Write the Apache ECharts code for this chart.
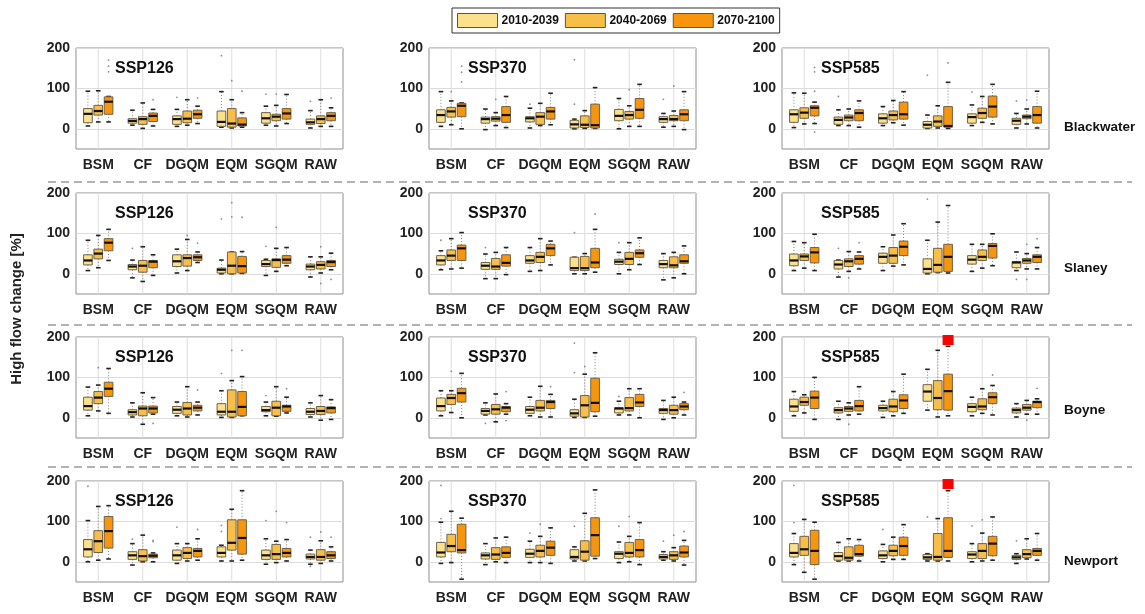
<!DOCTYPE html>
<html>
<head>
<meta charset="utf-8">
<script src="https://cdn.jsdelivr.net/npm/echarts@6/dist/echarts.min.js"></script>
<style>
html,body{margin:0;padding:0;background:#fff;}
#chart{width:1145px;height:614px;}
</style>
</head>
<body>
<div id="chart"></div>
<script>
// ---------- DATA ----------
const categories = ['BSM', 'CF', 'DGQM', 'EQM', 'SGQM', 'RAW'];
const periods = ['2010-2039', '2040-2069', '2070-2100'];
const scenarios = ['SSP126', 'SSP370', 'SSP585'];
const catchments = ['Blackwater', 'Slaney', 'Boyne', 'Newport'];
const yTicks = [0, 100, 200];

// each category: [period1, period2, period3], each = [min, q1, median, q3, max]
const blackwater126 = [
  [[7,15,37,50,93],[17,34,44,58,94],[17,36,67,79,80]],
  [[9,14,19.5,25,46],[1,11,24,30,64],[7,18,32,39,48]],
  [[6,11,24,32,48],[9,15,25,44,72],[13,26,36,46,56]],
  [[4,6,17,44,92],[2,4,13,50,72],[4,7,10.5,27,40]],
  [[9,14,26,40,56],[7,20,30,36,58],[13,24,38,50,85]],
  [[2,11,16,24,45],[6,13,24,32,72],[6,20,32,40,52]]
];
const blackwater370 = [
  [[6,16,34,47,92],[10,29,43,53,69],[0,30,57,63,64]],
  [[-2,14,24,29,49],[8,19,25,30,40],[3,16,34,55,80]],
  [[2,17,26,30,51],[8,11,30,40,63],[10,24,43,53,88]],
  [[0,2,11,21,24],[1,3,10,32,45],[1,2,9,61,102]],
  [[0,20,32,48,75],[6,24,34,43,57],[6,26,47,75,110]],
  [[4,16,24,30,38],[6,20,24,33,44],[-2,20,36,47,92]]
];
const blackwater585 = [
  [[3,16,36,47,89],[12,26,40,52,88],[13,32,52,57,66]],
  [[8,11,22,29,47],[8,20,28,34,49],[4,20,39,47,69]],
  [[8,14,26,37,55],[15,22,34,44,70],[9,24,36,66,92]],
  [[1,2,10,18,34],[2,6,18,32,57],[1,4,7,55,115]],
  [[8,14,29,37,59],[16,26,39,51,80],[12,29,55,81,110]],
  [[2,11,20,26,38],[12,25,30,34,49],[2,14,34,55,93]]
];
const slaney126 = [
  [[8,22,33,47,83],[15,37,50,61,95],[33,57,77,87,110]],
  [[-10,10,18,23,34],[-19,4,20,33,67],[-4,15,30,33,47]],
  [[2,18,31,47,61],[8,19,39,47,85],[28,33,41,47,54]],
  [[0,2,10,14,34],[0,0,20,54,54],[1,2,19,43,55]],
  [[-4,18,24,33,36],[6,16,34,37,63],[20,26,35,45,65]],
  [[-8,10,18,24,42],[2,12,22,30,42],[10,18,29,33,51]]
];
const slaney370 = [
  [[10,22,33,45,57],[12,33,45,59,87],[14,33,63,71,102]],
  [[-12,11,20,28,49],[-12,11,18,38,53],[-2,19,27,47,65]],
  [[6,26,33,45,65],[8,28,42,53,87],[22,45,63,73,81]],
  [[0,8,14,41,41],[0,8,14,43,50],[4,15,28,63,110]],
  [[0,23,30,36,53],[10,23,37,53,77],[23,41,51,59,89]],
  [[-15,15,24,33,50],[-10,15,21,42,53],[0,26,31,47,69]]
];
const slaney585 = [
  [[8,20,33,49,80],[14,33,43,49,77],[8,27,53,65,98]],
  [[-8,12,23,33,34],[6,18,31,37,55],[12,24,37,45,54]],
  [[8,26,42,51,67],[19,26,45,65,96],[22,45,67,81,124]],
  [[0,2,12,37,83],[3,4,22,63,128],[2,6,42,73,169]],
  [[6,24,35,45,73],[14,33,42,59,73],[20,39,69,75,99]],
  [[8,15,28,30,54],[12,26,33,38,50],[12,28,42,47,65]]
];
const boyne126 = [
  [[5,19,29,51,76],[17,35,50,65,81],[11,53,72,88,122]],
  [[2,7,14,20,37],[-16,5,23,29,62],[9,12,23,29,50]],
  [[5,11,20,28,39],[2,7,23,38,77],[7,17,25,31,39]],
  [[1,7,15,35,67],[1,2,15,69,92],[5,5,27,65,102]],
  [[5,15,19,28,39],[4,5,25,41,77],[12,16,28,31,51]],
  [[2,8,15,23,37],[-6,8,17,28,55],[-4,12,24,27,45]]
];
const boyne370 = [
  [[5,17,29,49,67],[13,33,49,58,67],[0,39,61,73,110]],
  [[7,9,17,23,37],[-10,9,21,33,59],[9,15,25,28,35]],
  [[5,11,20,28,51],[2,17,25,43,78],[2,23,39,43,58]],
  [[1,4,11,20,46],[1,2,31,55,108],[4,15,37,98,161]],
  [[7,12,23,25,41],[7,17,24,50,72],[0,28,38,58,72]],
  [[-4,11,19,23,43],[0,9,19,31,51],[7,20,28,35,39]]
];
const boyne585 = [
  [[5,16,28,46,65],[12,31,39,51,57],[-4,23,50,66,100]],
  [[-4,12,19,25,41],[7,16,23,28,37],[9,17,29,43,77]],
  [[1,17,24,31,41],[5,15,28,46,65],[11,23,43,57,108]],
  [[19,41,65,82,120],[2,20,49,92,167],[5,19,66,108,177]],
  [[5,15,27,35,51],[11,20,28,47,72],[7,35,51,62,80]],
  [[2,12,19,24,35],[9,19,25,33,43],[9,25,39,41,47]]
];
const newport126 = [
  [[0,12,31,55,102],[4,23,51,77,137],[7,34,76,112,139]],
  [[-8,6,16,25,45],[0,2,14,30,66],[0,10,15,19,22]],
  [[-4,4,16,29,45],[2,8,22,35,45],[4,12,27,33,57]],
  [[2,12,22,37,41],[2,29,47,104,130],[4,19,59,104,176]],
  [[-6,6,16,29,57],[-2,6,19,43,51],[2,12,22,33,55]],
  [[-6,7,12,19,29],[-4,4,12,30,52],[2,8,16,25,37]]
];
const newport370 = [
  [[-4,12,23,48,98],[-2,25,39,68,125],[-43,22,29,93,108]],
  [[-7,7,16,22,45],[0,6,18,35,59],[-2,11,22,37,61]],
  [[-2,11,20,31,51],[-2,12,27,41,63],[-4,16,35,51,84]],
  [[2,7,12,30,37],[2,4,25,52,120],[8,14,66,109,178]],
  [[-2,8,20,25,49],[0,12,22,48,63],[-7,12,29,55,97]],
  [[4,7,12,18,25],[2,6,16,25,35],[-8,12,23,39,53]]
];
const newport585 = [
  [[-7,12,22,45,70],[-26,16,31,63,105],[-43,-7,27,78,98]],
  [[2,4,14,23,48],[2,4,10,37,57],[2,14,19,41,55]],
  [[0,8,16,27,43],[6,15,27,41,61],[6,16,39,61,92]],
  [[2,6,11,18,20],[2,4,12,70,107],[2,11,27,109,176]],
  [[0,8,18,25,45],[2,8,27,45,71],[4,15,45,63,111]],
  [[-4,6,11,16,20],[7,10,19,30,57],[4,16,27,33,70]]
];

// outliers: [categoryIndex, periodIndex, value]
const blackwater126Out = [[0,2,170],[0,2,155],[0,2,141],[1,2,72],[2,0,78],[2,2,76],[3,0,181],[3,1,119],[3,2,93],[4,0,86],[4,1,86],[5,0,68],[5,2,76]];
const blackwater370Out = [[0,1,92],[0,2,155],[0,2,140],[0,2,116],[1,1,73],[2,0,61],[3,0,61],[3,0,171],[4,1,97],[5,0,73],[5,1,106]];
const blackwater585Out = [[0,2,152],[0,2,141],[0,2,93],[0,2,-8],[1,0,80],[3,0,133],[3,2,163],[4,0,91],[5,0,69],[5,1,71]];
const slaney126Out = [[1,0,63],[2,1,95],[2,2,76],[3,0,136],[3,1,176],[3,1,141],[3,2,140],[4,0,68],[4,1,115],[5,1,67],[5,1,-24],[5,2,-14]];
const slaney370Out = [[0,0,83],[1,0,65],[3,0,102],[3,2,148],[4,0,77]];
const slaney585Out = [[1,0,63],[1,1,-10],[1,2,77],[3,0,185],[5,0,-14],[5,1,73],[5,1,-14],[5,2,87]];
const boyne126Out = [[0,1,124],[1,2,-14],[2,2,69],[3,0,110],[3,1,167],[3,2,167],[4,0,55],[4,2,72]];
const boyne370Out = [[0,1,115],[1,0,-14],[1,2,65],[1,2,-7],[2,2,77],[3,0,112],[3,0,185],[3,1,127],[4,0,53],[5,2,63]];
const boyne585Out = [[1,1,-16],[4,2,106],[5,1,-6],[5,2,73]];
const newport126Out = [[0,0,187],[1,0,56],[1,2,50],[1,2,53],[2,0,86],[2,2,80],[3,0,90],[3,0,75],[4,0,102],[4,1,125],[4,2,97],[5,0,61],[5,0,-11],[5,1,74],[5,2,61]];
const newport370Out = [[0,0,189],[0,0,107],[2,0,71],[2,1,93],[3,0,88],[4,0,88],[4,1,112],[5,0,51],[5,1,66],[5,2,75]];
const newport585Out = [[0,0,97],[0,0,189],[2,0,80],[3,0,111],[4,0,89],[4,1,104],[5,0,52]];

// off-scale markers: [catchmentIndex, scenarioIndex, categoryIndex, periodIndex]
const offScale = [[2,2,3,2],[3,2,3,2]];

const panelBoxes = [
  [blackwater126, blackwater370, blackwater585],
  [slaney126, slaney370, slaney585],
  [boyne126, boyne370, boyne585],
  [newport126, newport370, newport585]
];
const panelOut = [
  [blackwater126Out, blackwater370Out, blackwater585Out],
  [slaney126Out, slaney370Out, slaney585Out],
  [boyne126Out, boyne370Out, boyne585Out],
  [newport126Out, newport370Out, newport585Out]
];

// ---------- STYLE / LAYOUT ----------
const colors = ['#FCE18C', '#F8BE4A', '#F7950F'];
const boxStroke = '#6f6249';
const FONT = 'Liberation Sans, Arial, sans-serif';
const gridLeft = [76, 429, 782];
const gridTop = [48, 193, 337, 481];
const rowLabelY = [127, 268, 410, 561];
const gridW = 267, gridH = 101;
const OFF = 0.232, BOXW = 0.195;

function boxRender(k, color) {
  return function (params, api) {
    const cat = api.value(0);
    const band = api.size([1, 0])[0];
    const x = api.coord([cat, 0])[0] + (k - 1) * band * OFF;
    const w = band * BOXW;
    const yMin = api.coord([cat, api.value(1)])[1];
    const yQ1 = api.coord([cat, api.value(2)])[1];
    const yMed = api.coord([cat, api.value(3)])[1];
    const yQ3 = api.coord([cat, api.value(4)])[1];
    const yMax = api.coord([cat, api.value(5)])[1];
    const cap = 2.3;
    const dash = {stroke: '#808080', lineWidth: 1, lineDash: [1, 2]};
    const capS = {stroke: '#222', lineWidth: 1.6};
    return {
      type: 'group',
      children: [
        {type: 'line', shape: {x1: x, y1: yQ3, x2: x, y2: yMax}, style: dash},
        {type: 'line', shape: {x1: x, y1: yQ1, x2: x, y2: yMin}, style: dash},
        {type: 'line', shape: {x1: x - cap, y1: yMax, x2: x + cap, y2: yMax}, style: capS},
        {type: 'line', shape: {x1: x - cap, y1: yMin, x2: x + cap, y2: yMin}, style: capS},
        {type: 'rect', shape: {x: x - w / 2, y: yQ3, width: w, height: Math.max(yQ1 - yQ3, 1)},
          style: {fill: color, stroke: boxStroke, lineWidth: 1}},
        {type: 'line', shape: {x1: x - w / 2, y1: yMed, x2: x + w / 2, y2: yMed},
          style: {stroke: '#111', lineWidth: 2.2}}
      ]
    };
  };
}
function outRender(params, api) {
  const cat = api.value(0), k = api.value(1);
  const band = api.size([1, 0])[0];
  const x = api.coord([cat, 0])[0] + (k - 1) * band * OFF;
  const y = api.coord([cat, api.value(2)])[1];
  return {type: 'circle', shape: {cx: x, cy: y, r: 0.9}, style: {fill: '#8c8c8c'}};
}
function vlineRender(params, api) {
  const cat = api.value(0);
  const p0 = api.coord([cat, -50]);
  const p1 = api.coord([cat, 200]);
  return {type: 'line', shape: {x1: p0[0], y1: p0[1], x2: p1[0], y2: p1[1]},
    style: {stroke: '#dedede', lineWidth: 1}};
}
function redRender(params, api) {
  const cat = api.value(0), k = api.value(1);
  const band = api.size([1, 0])[0];
  const x = api.coord([cat, 0])[0] + (k - 1) * band * OFF;
  const yTop = api.coord([cat, 200])[1];
  return {type: 'rect', shape: {x: x - 5.5, y: yTop - 2, width: 11, height: 10}, style: {fill: '#ff0000'}};
}

const grids = [], xAxes = [], yAxes = [], series = [], graphics = [];
catchments.forEach((name, r) => {
  scenarios.forEach((scen, c) => {
    const g = r * 3 + c;
    grids.push({left: gridLeft[c], top: gridTop[r], width: gridW, height: gridH,
      show: true, borderColor: '#8f8f8f', borderWidth: 1, backgroundColor: '#fff'});
    xAxes.push({gridIndex: g, type: 'category', data: categories,
      axisLine: {show: false}, axisTick: {show: false}, splitLine: {show: false},
      axisLabel: {interval: 0, margin: 9, fontSize: 14, fontWeight: 'bold', color: '#222', fontFamily: FONT}});
    yAxes.push({gridIndex: g, type: 'value', min: -50, max: 200, interval: 50,
      axisLine: {show: false}, axisTick: {show: false},
      axisLabel: {margin: 6, fontSize: 14, fontWeight: 'bold', color: '#222', fontFamily: FONT,
        formatter: v => yTicks.indexOf(v) >= 0 ? String(v) : ''},
      splitLine: {show: true, lineStyle: {color: ['rgba(0,0,0,0)', '#dcdcdc'], width: 1}}});
    series.push({type: 'custom', name: 'grid' + g, xAxisIndex: g, yAxisIndex: g, z: 1, silent: true,
      renderItem: vlineRender, encode: {x: 0, y: 1}, data: categories.map((cname, i) => [i, 0])});
    const boxes = panelBoxes[r][c];
    periods.forEach((p, k) => {
      series.push({type: 'custom', name: p, xAxisIndex: g, yAxisIndex: g, z: 3,
        itemStyle: {color: colors[k]},
        renderItem: boxRender(k, colors[k]), encode: {x: 0, y: [1, 2, 3, 4, 5]},
        data: boxes.map((row, i) => [i].concat(row[k]))});
    });
    series.push({type: 'custom', name: 'out' + g, xAxisIndex: g, yAxisIndex: g, z: 2, silent: true,
      renderItem: outRender, encode: {x: 0, y: 2}, data: panelOut[r][c]});
    const reds = offScale.filter(o => o[0] === r && o[1] === c).map(o => [o[2], o[3], 200]);
    if (reds.length) {
      series.push({type: 'custom', name: 'off' + g, xAxisIndex: g, yAxisIndex: g, z: 5, clip: false, silent: true,
        renderItem: redRender, encode: {x: 0, y: 2}, data: reds});
    }
    graphics.push({type: 'text', left: gridLeft[c] + 39, top: gridTop[r] + 13, z: 10,
      style: {text: scen, font: 'bold 16px ' + FONT, fill: '#111'}});
  });
  graphics.push({type: 'text', x: 1064, y: rowLabelY[r], z: 10,
    style: {text: name, font: 'bold 13.5px ' + FONT, fill: '#111', verticalAlign: 'middle'}});
});
// dashed separators between catchment rows
[182, 325, 467].forEach(y => {
  graphics.push({type: 'line', shape: {x1: 48, y1: y, x2: 1132, y2: y}, z: 10,
    style: {stroke: '#666', lineWidth: 1, lineDash: [8, 5]}});
});
graphics.push({type: 'text', x: 17, y: 309, rotation: Math.PI / 2, z: 10,
  style: {text: 'High flow change [%]', font: 'bold 15px ' + FONT, fill: '#222',
    align: 'center', verticalAlign: 'middle'}, originX: 0, originY: 0});

const chart = echarts.init(document.getElementById('chart'));
chart.setOption({
  animation: false,
  backgroundColor: '#fff',
  textStyle: {fontFamily: FONT},
  legend: {
    left: 452, top: 8, orient: 'horizontal',
    data: periods.map(p => ({name: p, icon: 'rect'})),
    itemWidth: 40, itemHeight: 14, itemGap: 6,
    padding: [5, 5], borderColor: '#333', borderWidth: 1, backgroundColor: '#fff',
    itemStyle: {borderColor: '#555', borderWidth: 1},
    textStyle: {fontSize: 12, fontWeight: 'bold', color: '#111', fontFamily: FONT, padding: [0, 0, 0, -1]},
    selectedMode: false
  },
  grid: grids, xAxis: xAxes, yAxis: yAxes, series: series,
  graphic: graphics
});
</script>
</body>
</html>
